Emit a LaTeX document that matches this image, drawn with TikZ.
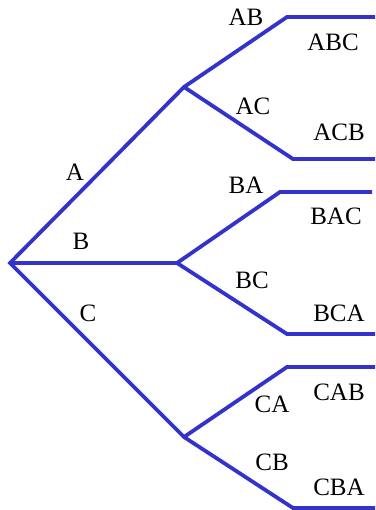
\documentclass[tikz,border=0pt]{standalone}
\usepackage{fontspec}
\setmainfont{Liberation Serif}
\definecolor{treeblue}{RGB}{51,51,204}
\begin{document}
\begin{tikzpicture}[x=1pt,y=-1pt,
  branch/.style={draw=treeblue,line width=3.8pt,line join=miter},
  lbl/.style={inner sep=0pt,font=\fontsize{25}{30}\selectfont}]
\useasboundingbox (0,0) rectangle (375,510);
% points
\coordinate (root) at (10,263);
\coordinate (nA) at (184,87);
\coordinate (nB) at (177,263);
\coordinate (nC) at (184,437);
\coordinate (kAB) at (287,17);   \coordinate (eAB) at (375,17);
\coordinate (kAC) at (293,159);  \coordinate (eAC) at (375,159);
\coordinate (kBA) at (280,192);  \coordinate (eBA) at (372,192);
\coordinate (kBC) at (287,334);  \coordinate (eBC) at (375,334);
\coordinate (kCA) at (287,367);  \coordinate (eCA) at (375,367);
\coordinate (kCB) at (293,508);  \coordinate (eCB) at (375,508);
% branches
\draw[branch] (eAB) -- (kAB) -- (nA) -- (root) -- (nC) -- (kCB) -- (eCB);
\draw[branch] (nA) -- (kAC) -- (eAC);
\draw[branch] (root) -- (nB);
\draw[branch] (eBA) -- (kBA) -- (nB) -- (kBC) -- (eBC);
\draw[branch] (nC) -- (kCA) -- (eCA);
% labels
\node[lbl] (lA) at (75,172) {A};
\node[lbl] (lB) at (81,241) {B};
\node[lbl] (lC) at (88,313) {C};
\node[lbl] (lAB) at (246,17) {AB};
\node[lbl] (lAC) at (253,106) {AC};
\node[lbl] (lBA) at (246,185) {BA};
\node[lbl] (lBC) at (252,280) {BC};
\node[lbl] (lCA) at (272,404) {CA};
\node[lbl] (lCB) at (272,462) {CB};
\node[lbl] (lABC) at (333,42) {ABC};
\node[lbl] (lACB) at (339,132) {ACB};
\node[lbl] (lBAC) at (336,216) {BAC};
\node[lbl] (lBCA) at (339,313) {BCA};
\node[lbl] (lCAB) at (339,392) {CAB};
\node[lbl] (lCBA) at (339,487) {CBA};
\end{tikzpicture}
\end{document}
